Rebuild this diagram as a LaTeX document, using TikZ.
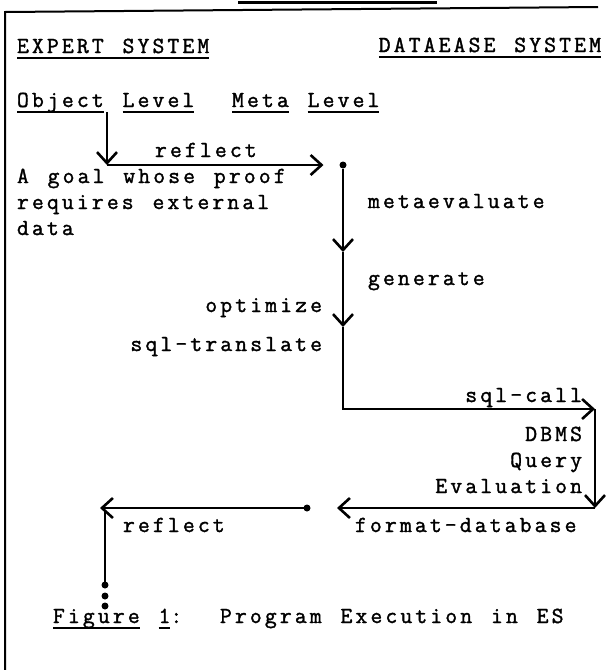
\documentclass[tikz,border=0pt]{standalone}
\usepackage{fontspec}
\setmonofont[LetterSpace=13.6,WordSpace=1.26,FakeBold=1.5]{Latin Modern Mono}
\usetikzlibrary{arrows.meta,positioning}
\tikzstyle{lbl} = [font=\ttfamily\fontsize{23}{26}\selectfont,inner sep=0pt,outer sep=0pt]
\tikzstyle{wire} = [line width=2.6pt]
\tikzstyle{flow} = [wire,-{Straight Barb[length=11pt,width=20pt]}]
\tikzstyle{frame} = [line width=2pt]
\tikzstyle{site} = [circle,fill=black,minimum size=7pt,inner sep=0pt,outer sep=0pt]
\def\ulw#1{\setbox0\hbox{#1}\rlap{\rule[-6pt]{\wd0}{1.8pt}}\box0\relax}

\begin{document}
\begin{tikzpicture}[x=1pt,y=-1pt]
      \useasboundingbox (0,0) rectangle (606,670);
      \draw[frame] (5,670) -- (5,12) -- (598,7);
      \draw[line width=3pt] (238,2) -- (437,2);
      \node[lbl,anchor=base west] (es) at (17,53) {\ulw{EXPERT SYSTEM}};
      \node[lbl,anchor=base east] (db) at (601,52) {\ulw{DATAEASE SYSTEM}};
      \node[lbl,anchor=base west] (lev) at (17,107) {\ulw{Object} \ulw{Level}\ \ \ulw{Meta} \ulw{Level}};
      \node[lbl,anchor=base west] (refl1) at (155,157) {reflect};
      \node[lbl,anchor=base west,align=left] (goal) at (17,235) {A goal whose proof\\requires external\\data};
      \node[lbl,anchor=base west] (meta) at (368,208) {metaevaluate};
      \node[lbl,anchor=base west] (gen) at (368,285) {generate};
      \node[lbl,anchor=base east] (opt) at (322,312) {optimize};
      \node[lbl,anchor=base east] (trans) at (322,351) {sql-translate};
      \node[lbl,anchor=base east] (call) at (582,402) {sql-call};
      \node[lbl,anchor=base east,align=right] (dbms) at (582,493) {DBMS\\Query\\Evaluation};
      \node[lbl,anchor=base west] (fmt) at (355,532) {format-database};
      \node[lbl,anchor=base west] (refl2) at (123,532) {reflect};
      \node[lbl,anchor=base west] (cap) at (53,623) {\ulw{Figure} \ulw{1}:\ \ Program Execution in ES};
      \coordinate (o1) at (107,112);
      \coordinate (o2) at (107,165);
      \node[site] (m0) at (343,165) {};
      \coordinate (a1) at (343,252);
      \coordinate (a2) at (343,327);
      \coordinate (c1) at (343,409);
      \coordinate (c2) at (595,409);
      \coordinate (c3) at (595,508);
      \node[site] (m1) at (307,508) {};
      \coordinate (r1) at (100,508);
      \coordinate (r2) at (105,512);
      \node[site] (e1) at (105,585) {};
      \node[site] (e2) at (105,596) {};
      \node[site] (e3) at (105,606) {};
      \draw[flow] (o1) -- (o2);
      \draw[flow,shorten >=16pt] (o2) -- (m0);
      \draw[flow] (m0) -- (a1);
      \draw[flow] (a1) -- (a2);
      \draw[flow] (a2) -- (c1) -- (c2);
      \draw[flow] (c2) -- (c3);
      \draw[flow,shorten >=26.5pt] (c3) -- (m1);
      \draw[flow] (m1) -- (r1);
      \draw[wire] (r2) -- (e1);
    \end{tikzpicture}
\end{document}
